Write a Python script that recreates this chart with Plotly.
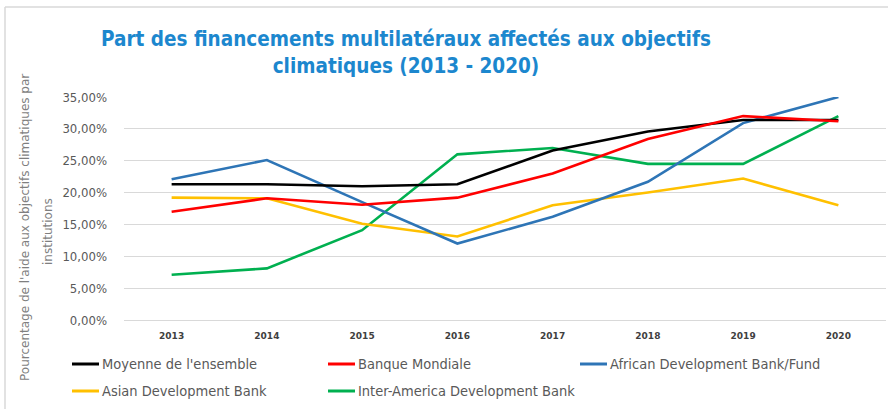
import plotly.graph_objects as go

years = ["2013", "2014", "2015", "2016", "2017", "2018", "2019", "2020"]
moyenne = [21.3, 21.3, 21.0, 21.3, 26.6, 29.6, 31.4, 31.4]
banque_mondiale = [17.0, 19.1, 18.1, 19.2, 23.0, 28.4, 32.0, 31.2]
afdb = [22.1, 25.1, 18.5, 12.0, 16.2, 21.7, 30.9, 35.0]
asian_db = [19.2, 19.1, 15.1, 13.1, 18.0, 20.0, 22.2, 18.0]
idb = [7.1, 8.1, 14.1, 26.0, 27.0, 24.5, 24.5, 32.0]

series_names = ["Moyenne de l'ensemble", "Banque Mondiale", "African Development Bank/Fund",
                "Asian Development Bank", "Inter-America Development Bank"]
series_values = [moyenne, banque_mondiale, afdb, asian_db, idb]
series_colors = ["#000000", "#FF0000", "#2E75B6", "#FFC000", "#00B050"]
# order of drawing (bottom to top)
draw_order = [4, 3, 2, 0, 1]

W, H = 888, 409
L, R, T, B = 124, 2, 97, 89
PW, PH = W - L - R, H - T - B

def px(x):
    return (x - L) / PW

def py(y):
    return (H - B - y) / PH

NARROW = "Liberation Sans Narrow, DejaVu Sans Condensed, Arial Narrow, sans-serif"

fig = go.Figure()
for i in draw_order:
    fig.add_trace(go.Scatter(
        x=years, y=series_values[i], mode="lines", name=series_names[i],
        line=dict(color=series_colors[i], width=2.6), showlegend=False,
    ))

shapes = [
    dict(type="line", xref="paper", yref="paper", x0=px(5), x1=px(888), y0=py(7), y1=py(7),
         line=dict(color="#D9D9D9", width=1.5)),
    dict(type="line", xref="paper", yref="paper", x0=px(5), x1=px(5), y0=py(7), y1=py(409),
         line=dict(color="#D9D9D9", width=1.5)),
]
annotations = []

# legend (drawn manually to match the two-row layout)
leg_pos = [(72, 364), (328, 364), (580, 364), (72, 391), (328, 391)]
for (lx, ly), name, col in zip(leg_pos, series_names, series_colors):
    shapes.append(dict(type="line", xref="paper", yref="paper",
                       x0=px(lx), x1=px(lx + 27), y0=py(ly), y1=py(ly),
                       line=dict(color=col, width=3)))
    annotations.append(dict(text=name, xref="paper", yref="paper", x=px(lx + 28), y=py(ly),
                            xanchor="left", yanchor="middle", showarrow=False,
                            font=dict(family=NARROW, size=14.5, color="#595959")))

# y-axis title (two lines)
annotations.append(dict(text="Pourcentage de l'aide aux objectifs climatiques par",
                        xref="paper", yref="paper", x=px(25), y=py(228), textangle=-90,
                        xanchor="center", yanchor="middle", showarrow=False,
                        font=dict(family="DejaVu Sans", size=12, color="#7F7F7F")))
annotations.append(dict(text="institutions",
                        xref="paper", yref="paper", x=px(48), y=py(232), textangle=-90,
                        xanchor="center", yanchor="middle", showarrow=False,
                        font=dict(family="DejaVu Sans", size=12, color="#7F7F7F")))

fig.update_layout(
    width=W, height=H,
    margin=dict(l=L, r=R, t=T, b=B, autoexpand=False),
    paper_bgcolor="white", plot_bgcolor="white",
    separators=", ",
    title=dict(text="<b>Part des financements multilatéraux affectés aux objectifs<br>climatiques (2013 - 2020)</b>",
               x=406 / W, xanchor="center", xref="container",
               y=1 - 46 / H, yanchor="top", yref="container", pad=dict(t=0, b=0),
               font=dict(family=NARROW, size=20.5, color="#1C87CE")),
    xaxis=dict(type="category", range=[-0.5, 7.5], showgrid=False, zeroline=False,
               showline=False, ticks="",
               tickfont=dict(family="DejaVu Sans", size=9, color="#404040", weight="bold"),
               ticklabelstandoff=9, fixedrange=True),
    yaxis=dict(range=[0, 35], dtick=5, tickformat=".2f", ticksuffix="%",
               showgrid=True, gridcolor="#D9D9D9", gridwidth=1,
               zeroline=True, zerolinecolor="#D9D9D9", zerolinewidth=1,
               showline=False, ticks="",
               tickfont=dict(family=NARROW, size=13, color="#595959"),
               ticklabelstandoff=16, fixedrange=True),
    shapes=shapes,
    annotations=annotations,
    showlegend=False,
)

fig.write_html("out.html", post_script="document.body.style.margin='0';",
               config={"displayModeBar": False})
